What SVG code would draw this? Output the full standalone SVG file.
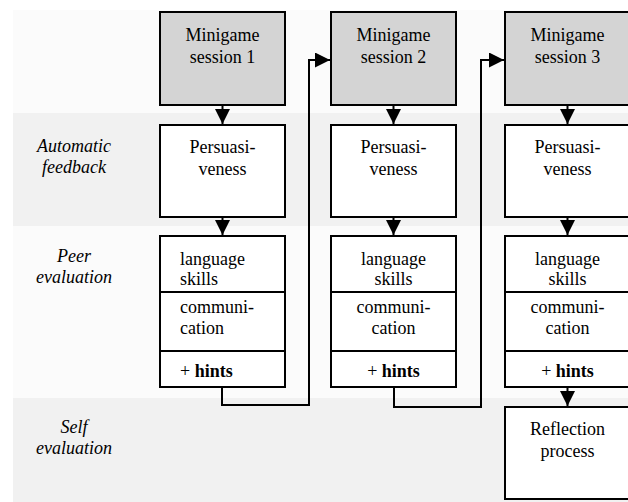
<svg xmlns="http://www.w3.org/2000/svg" width="628" height="502" viewBox="0 0 628 502">
<defs>
<style>
.box{fill:#fff;stroke:#000;stroke-width:2}
.gray{fill:#d4d4d4}
.c{text-anchor:middle}
.lab{font-style:italic;text-anchor:middle}
.conn{fill:none;stroke:#000;stroke-width:2}
.div{stroke:#000;stroke-width:2}
</style>
<marker id="ah" markerUnits="userSpaceOnUse" markerWidth="15" markerHeight="15" refX="15" refY="7.5" orient="auto">
<path d="M0,0 L15,7.5 L0,15 z" fill="#000"/>
</marker>
</defs>
<g id="bands">
<rect x="13" y="10" width="615" height="103" fill="#fbfbfb"/>
<rect x="13" y="113" width="615" height="113" fill="#f1f1f1"/>
<rect x="13" y="226" width="615" height="172" fill="#fbfbfb"/>
<rect x="13" y="398" width="615" height="104" fill="#f1f1f1"/>
</g>
<g id="connectors">
<line class="conn" x1="222.5" y1="105" x2="222.5" y2="124" marker-end="url(#ah)"/>
<line class="conn" x1="222.5" y1="217" x2="222.5" y2="235" marker-end="url(#ah)"/>
<line class="conn" x1="393.5" y1="105" x2="393.5" y2="124" marker-end="url(#ah)"/>
<line class="conn" x1="393.5" y1="217" x2="393.5" y2="235" marker-end="url(#ah)"/>
<line class="conn" x1="567.5" y1="105" x2="567.5" y2="124" marker-end="url(#ah)"/>
<line class="conn" x1="567.5" y1="217" x2="567.5" y2="235" marker-end="url(#ah)"/>
<line class="conn" x1="567.5" y1="387" x2="567.5" y2="406" marker-end="url(#ah)"/>
<polyline class="conn" points="222,387 222,405 309,405 309,60 330,60" marker-end="url(#ah)"/>
<polyline class="conn" points="394,387 394,407 481,407 481,60 504,60" marker-end="url(#ah)"/>
</g>
<g font-family="'Liberation Serif', 'Times New Roman', serif" font-size="18" fill="#000">
<g id="labels">
<text class="lab" x="74" y="152">Automatic</text>
<text class="lab" x="74" y="173">feedback</text>
<text class="lab" x="74" y="262">Peer</text>
<text class="lab" x="74" y="283">evaluation</text>
<text class="lab" x="74" y="433">Self</text>
<text class="lab" x="74" y="454">evaluation</text>
</g>
<g id="session1">
<rect class="box gray" x="160" y="12" width="125" height="93"/>
<text class="c" x="222.5" y="41">Minigame</text>
<text class="c" x="222.5" y="63">session 1</text>
</g>
<g id="session2">
<rect class="box gray" x="331" y="12" width="125" height="93"/>
<text class="c" x="393.5" y="41">Minigame</text>
<text class="c" x="393.5" y="63">session 2</text>
</g>
<g id="session3">
<rect class="box gray" x="505" y="12" width="125" height="93"/>
<text class="c" x="567.5" y="41">Minigame</text>
<text class="c" x="567.5" y="63">session 3</text>
</g>
<g id="auto1">
<rect class="box" x="160" y="125" width="125" height="92"/>
<text class="c" x="222.5" y="153">Persuasi-</text>
<text class="c" x="222.5" y="175">veness</text>
</g>
<g id="auto2">
<rect class="box" x="331" y="125" width="125" height="92"/>
<text class="c" x="393.5" y="153">Persuasi-</text>
<text class="c" x="393.5" y="175">veness</text>
</g>
<g id="auto3">
<rect class="box" x="505" y="125" width="125" height="92"/>
<text class="c" x="567.5" y="153">Persuasi-</text>
<text class="c" x="567.5" y="175">veness</text>
</g>
<g id="peer1">
<rect class="box" x="160" y="236" width="125" height="151"/>
<line class="div" x1="160" y1="292" x2="285" y2="292"/>
<line class="div" x1="160" y1="351" x2="285" y2="351"/>
<text x="180" y="265">language</text>
<text x="180" y="285">skills</text>
<text x="180" y="313">communi-</text>
<text x="180" y="334">cation</text>
<text x="180" y="377">+ <tspan font-weight="bold">hints</tspan></text>
</g>
<g id="peer2">
<rect class="box" x="331" y="236" width="125" height="151"/>
<line class="div" x1="331" y1="292" x2="456" y2="292"/>
<line class="div" x1="331" y1="351" x2="456" y2="351"/>
<text class="c" x="393.5" y="265">language</text>
<text class="c" x="393.5" y="285">skills</text>
<text class="c" x="393.5" y="313">communi-</text>
<text class="c" x="393.5" y="334">cation</text>
<text class="c" x="393.5" y="377">+ <tspan font-weight="bold">hints</tspan></text>
</g>
<g id="peer3">
<rect class="box" x="505" y="236" width="125" height="151"/>
<line class="div" x1="505" y1="292" x2="630" y2="292"/>
<line class="div" x1="505" y1="351" x2="630" y2="351"/>
<text class="c" x="567.5" y="265">language</text>
<text class="c" x="567.5" y="285">skills</text>
<text class="c" x="567.5" y="313">communi-</text>
<text class="c" x="567.5" y="334">cation</text>
<text class="c" x="567.5" y="377">+ <tspan font-weight="bold">hints</tspan></text>
</g>
<g id="reflection">
<rect class="box" x="505" y="407" width="125" height="92"/>
<text class="c" x="567.5" y="435">Reflection</text>
<text class="c" x="567.5" y="457">process</text>
</g>
</g>
</svg>
